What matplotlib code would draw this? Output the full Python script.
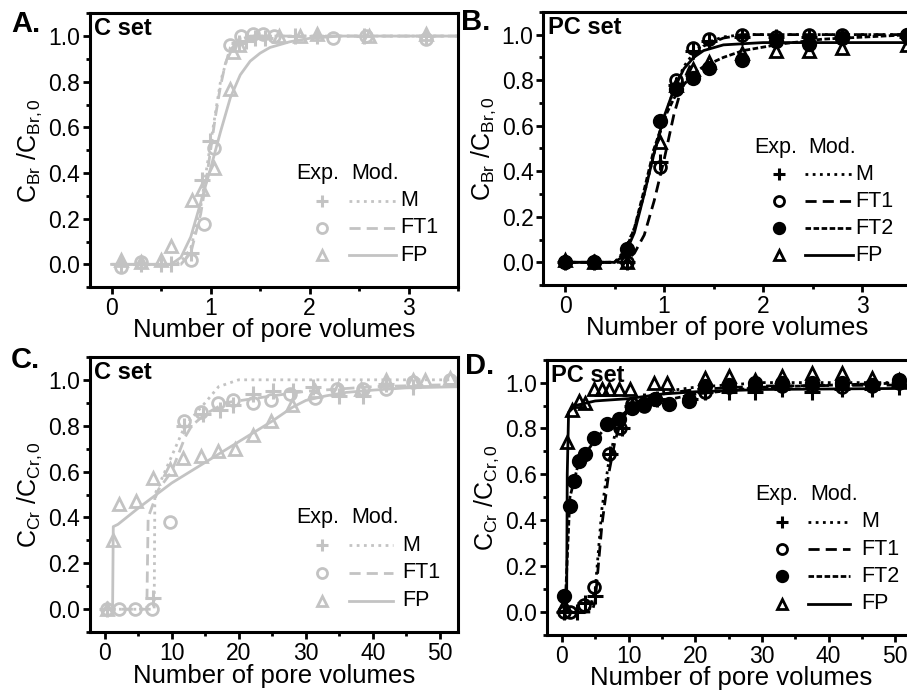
import numpy as np
import matplotlib
matplotlib.use("Agg")
import matplotlib.pyplot as plt
from matplotlib.ticker import MultipleLocator

plt.rcParams['font.family'] = ['Liberation Sans', 'DejaVu Sans']
plt.rcParams['mathtext.fontset'] = 'custom'
plt.rcParams['mathtext.rm'] = 'Liberation Sans'
plt.rcParams['mathtext.it'] = 'Liberation Sans:italic'

GREY = '#c3c3c3'
BLACK = '#000000'

# =========================
# Panel A - C set, bromide
# =========================
a_x_m = [0.10, 0.30, 0.50, 0.60, 0.80, 0.91, 0.99, 1.29, 1.36, 1.45, 1.55, 1.85, 2.08, 2.55, 3.18]
a_y_m = [0.00, 0.00, 0.00, 0.00, 0.05, 0.37, 0.54, 0.97, 0.98, 0.99, 0.99, 1.00, 1.00, 1.00, 1.00]
a_x_ft1 = [0.10, 0.30, 0.80, 0.93, 1.03, 1.20, 1.31, 1.43, 1.53, 1.64, 2.24, 2.57, 3.18]
a_y_ft1 = [-0.01, 0.01, 0.02, 0.175, 0.51, 0.96, 1.00, 1.01, 1.01, 1.00, 0.99, 1.00, 0.985]
a_x_fp = [0.10, 0.30, 0.50, 0.60, 0.81, 0.91, 1.03, 1.20, 1.23, 1.29, 1.69, 1.90, 2.08, 2.60, 3.18]
a_y_fp = [0.02, 0.01, 0.02, 0.08, 0.28, 0.33, 0.42, 0.77, 0.93, 0.96, 1.00, 1.00, 1.01, 1.00, 1.01]

a_cx_m = [0.0, 0.6, 0.7, 0.8, 0.9, 1.0, 1.1, 1.2, 1.3, 1.4, 3.5]
a_cy_m = [0.0, 0.0, 0.01, 0.07, 0.25, 0.53, 0.80, 0.95, 0.99, 1.0, 1.0]
a_cx_ft1 = [0.0, 0.7, 0.8, 0.9, 0.95, 1.0, 1.05, 1.1, 1.15, 1.2, 1.3, 1.4, 3.5]
a_cy_ft1 = [0.0, 0.0, 0.05, 0.22, 0.35, 0.50, 0.65, 0.78, 0.88, 0.94, 0.985, 1.0, 1.0]
a_cx_fp = [0.0, 0.6, 0.7, 0.8, 0.9, 1.0, 1.1, 1.2, 1.3, 1.4, 1.5, 1.6, 1.8, 2.0, 2.3, 3.5]
a_cy_fp = [0.0, 0.0, 0.03, 0.12, 0.27, 0.42, 0.58, 0.73, 0.83, 0.89, 0.925, 0.95, 0.975, 0.99, 1.0, 1.0]

# =========================
# Panel B - PC set, bromide
# =========================
b_x = [0.0, 0.29, 0.63, 0.96, 1.12, 1.29, 1.45, 1.79, 2.13, 2.46, 2.80, 3.45]
b_y_m = [0.0, 0.0, 0.0, 0.44, 0.78, 0.93, 0.97, 0.99, 0.99, 0.99, 0.99, 0.99]
b_y_ft1 = [0.0, 0.0, 0.0, 0.42, 0.80, 0.94, 0.98, 1.00, 0.99, 1.00, 1.00, 1.00]
b_y_ft2 = [0.0, 0.0, 0.06, 0.62, 0.76, 0.81, 0.855, 0.89, 0.97, 0.96, 0.985, 1.00]
b_y_fp = [0.01, 0.0, 0.0, 0.53, 0.78, 0.85, 0.88, 0.92, 0.93, 0.93, 0.94, 0.955]

b_cx_m = [0.0, 0.5, 0.6, 0.7, 0.8, 0.9, 1.0, 1.1, 1.2, 1.3, 1.4, 1.6, 1.8, 3.5]
b_cy_m = [0.0, 0.0, 0.05, 0.15, 0.30, 0.48, 0.63, 0.76, 0.86, 0.92, 0.96, 0.99, 1.0, 1.0]
b_cx_ft1 = [0.0, 0.6, 0.7, 0.8, 0.9, 1.0, 1.1, 1.2, 1.3, 1.4, 1.6, 1.8, 3.5]
b_cy_ft1 = [0.0, 0.0, 0.04, 0.12, 0.27, 0.45, 0.65, 0.80, 0.90, 0.95, 0.985, 1.0, 1.0]
b_cx_ft2 = [0.0, 0.5, 0.6, 0.7, 0.8, 0.9, 1.0, 1.1, 1.2, 1.3, 1.4, 1.6, 1.8, 2.2, 2.6, 3.5]
b_cy_ft2 = [0.0, 0.0, 0.04, 0.15, 0.32, 0.50, 0.63, 0.72, 0.78, 0.83, 0.86, 0.90, 0.93, 0.96, 0.98, 1.0]
b_cx_fp = [0.0, 0.5, 0.6, 0.7, 0.8, 0.9, 1.0, 1.1, 1.2, 1.3, 1.4, 1.6, 2.0, 3.5]
b_cy_fp = [0.0, 0.0, 0.03, 0.13, 0.30, 0.48, 0.64, 0.76, 0.85, 0.90, 0.93, 0.955, 0.965, 0.965]

# =========================
# Panel C - C set, chromium
# =========================
c_x_m = [0.3, 7.2, 11.9, 14.7, 17.2, 19.2, 22.1, 25.1, 28.1, 31.1, 35.0, 38.5, 42.0, 46.0]
c_y_m = [0.0, 0.05, 0.80, 0.85, 0.87, 0.89, 0.94, 0.95, 0.95, 0.97, 0.93, 0.93, 0.98, 0.97]
c_x_ft1 = [0.3, 2.2, 4.5, 7.0, 9.7, 11.9, 14.4, 16.9, 19.2, 22.1, 24.8, 27.6, 31.4, 34.6, 38.5, 42.0, 46.0, 51.5]
c_y_ft1 = [0.0, 0.0, 0.0, 0.0, 0.38, 0.82, 0.86, 0.90, 0.91, 0.90, 0.91, 0.94, 0.92, 0.96, 0.96, 0.96, 0.99, 1.00]
c_x_fp = [0.3, 1.2, 2.2, 4.7, 7.2, 9.7, 11.7, 14.4, 16.9, 19.4, 22.1, 24.8, 27.9, 31.4, 34.8, 38.3, 42.0, 46.0, 47.8, 51.5]
c_y_fp = [0.0, 0.30, 0.46, 0.47, 0.57, 0.61, 0.66, 0.67, 0.69, 0.70, 0.76, 0.82, 0.89, 0.95, 0.96, 0.96, 1.00, 1.00, 1.00, 1.01]

c_cx_m = [0.0, 7.4, 7.5, 9.0, 12.0, 15.0, 17.0, 20.0, 53.0]
c_cy_m = [0.0, 0.0, 0.50, 0.60, 0.80, 0.90, 0.97, 1.0, 1.0]
c_cx_ft1 = [0.0, 6.3, 6.5, 8.0, 10.0, 12.0, 13.0, 15.0, 18.0, 25.0, 30.0, 40.0, 53.0]
c_cy_ft1 = [0.0, 0.0, 0.40, 0.52, 0.60, 0.75, 0.80, 0.85, 0.90, 0.93, 0.95, 0.97, 0.98]
c_cx_fp = [0.0, 1.2, 1.3, 2.0, 5.0, 10.0, 15.0, 20.0, 25.0, 28.0, 30.0, 33.0, 36.0, 40.0, 45.0, 53.0]
c_cy_fp = [0.0, 0.0, 0.36, 0.37, 0.44, 0.55, 0.64, 0.73, 0.82, 0.88, 0.91, 0.93, 0.945, 0.955, 0.965, 0.97]

# =========================
# Panel D - PC set, chromium
# =========================
d_x_m = [0.25, 2.25, 3.5, 5.0, 7.25, 9.0, 10.5, 12.25, 14.25, 19.25, 21.5, 25.0, 29.0, 33.0, 37.5, 42.0, 46.5, 50.5]
d_y_m = [0.0, 0.0, 0.04, 0.07, 0.69, 0.80, 0.90, 0.92, 0.93, 0.93, 0.96, 0.96, 0.96, 0.97, 0.96, 0.97, 0.97, 0.98]
d_x_ft1 = [0.25, 1.25, 3.25, 4.75, 7.0, 8.75, 10.5, 12.25, 14.0, 19.0, 21.5, 25.0, 29.0, 33.0, 37.5, 42.0, 46.5, 50.5]
d_y_ft1 = [0.0, 0.0, 0.03, 0.11, 0.69, 0.80, 0.905, 0.90, 0.93, 0.93, 0.96, 0.98, 0.985, 0.985, 0.985, 0.98, 0.985, 1.0]
d_x_ft2 = [0.25, 1.15, 1.75, 2.5, 3.5, 4.75, 6.75, 8.5, 10.5, 12.25, 14.0, 16.0, 19.0, 21.5, 25.0, 29.0, 33.0, 37.5, 42.0, 46.5, 50.5]
d_y_ft2 = [0.07, 0.46, 0.57, 0.66, 0.69, 0.76, 0.82, 0.84, 0.89, 0.905, 0.93, 0.905, 0.92, 0.985, 0.99, 1.0, 1.0, 1.0, 1.0, 0.99, 1.01]
d_x_fp = [0.25, 0.75, 1.5, 2.5, 3.5, 4.75, 6.0, 7.0, 8.5, 10.25, 13.75, 15.75, 21.5, 25.0, 29.0, 33.0, 37.5, 42.0, 46.5, 50.5]
d_y_fp = [0.03, 0.74, 0.88, 0.92, 0.91, 0.97, 0.97, 0.97, 0.97, 0.97, 1.0, 1.0, 1.02, 1.03, 1.01, 1.03, 1.04, 1.04, 1.02, 1.01]

d_cx_m = [0.0, 4.0, 5.0, 6.0, 7.0, 8.0, 9.0, 10.0, 12.0, 15.0, 20.0, 30.0, 53.0]
d_cy_m = [0.0, 0.0, 0.10, 0.45, 0.65, 0.78, 0.85, 0.89, 0.93, 0.96, 0.98, 1.0, 1.0]
d_cx_ft1 = [0.0, 4.5, 5.0, 6.0, 7.0, 8.0, 9.0, 10.0, 12.0, 15.0, 20.0, 30.0, 53.0]
d_cy_ft1 = [0.0, 0.0, 0.05, 0.38, 0.60, 0.75, 0.84, 0.88, 0.92, 0.95, 0.97, 0.985, 0.99]
d_cx_ft2 = [0.0, 0.3, 0.6, 1.2, 2.5, 5.0, 7.0, 10.0, 15.0, 20.0, 30.0, 53.0]
d_cy_ft2 = [0.0, 0.0, 0.10, 0.50, 0.65, 0.75, 0.82, 0.88, 0.92, 0.95, 0.98, 1.0]
d_cx_fp = [0.0, 0.7, 0.8, 1.0, 2.0, 5.0, 10.0, 15.0, 20.0, 30.0, 53.0]
d_cy_fp = [0.0, 0.0, 0.60, 0.87, 0.90, 0.92, 0.93, 0.95, 0.96, 0.97, 0.975]

# styles
LS = {'M': (0, (1, 1.6)), 'FT1': (0, (4, 2.2)), 'FT2': (0, (2, 0.9)), 'FP': '-'}
MK = {'M': dict(marker='+', ms=11, mew=2.2),
      'FT1': dict(marker='o', ms=8.5, mew=2.0, mfc='none'),
      'FT2': dict(marker='o', ms=9.5, mew=1.5),
      'FP': dict(marker='^', ms=9, mew=2.0, mfc='none')}


def style_axes(ax, xlim, xmaj, xmin, ylabel):
    ax.set_xlim(*xlim)
    ax.set_ylim(-0.1, 1.1)
    ax.xaxis.set_major_locator(MultipleLocator(xmaj))
    ax.xaxis.set_minor_locator(MultipleLocator(xmin))
    ax.yaxis.set_major_locator(MultipleLocator(0.2))
    ax.yaxis.set_minor_locator(MultipleLocator(0.1))
    ax.yaxis.set_major_formatter(plt.FormatStrFormatter('%.1f'))
    ax.tick_params(which='both', direction='out', width=2, labelsize=16.5,
                   top=False, right=False, pad=2)
    ax.tick_params(which='major', length=5)
    ax.tick_params(which='minor', length=3)
    for s in ax.spines.values():
        s.set_linewidth(2.2)
    ax.set_xlabel('Number of pore volumes', fontsize=18.5, labelpad=-1)
    ax.set_ylabel(ylabel, fontsize=18, labelpad=3)


def legend(ax, names, color, x0, xmod, ytop, dy, xm, xl0, xl1, xt):
    ax.text(x0, ytop, 'Exp.', transform=ax.transAxes, fontsize=15.5,
            va='center', ha='left')
    ax.text(xmod, ytop, 'Mod.', transform=ax.transAxes, fontsize=15.5,
            va='center', ha='left')
    for i, n in enumerate(names):
        y = ytop - dy * (i + 1)
        kw = dict(MK[n])
        kw['ms'] = kw['ms'] * 0.85
        ax.plot([xm], [y], transform=ax.transAxes, color=color, ls='none',
                clip_on=False, **kw)
        ax.plot([xl0, xl1], [y, y], transform=ax.transAxes, color=color,
                ls=LS[n], lw=2, clip_on=False)
        ax.text(xt, y, n, transform=ax.transAxes, fontsize=15.5, va='center',
                ha='left')


fig = plt.figure(figsize=(9.07, 6.97), dpi=100)
axA = fig.add_axes([0.099, 0.588, 0.406, 0.393])
axB = fig.add_axes([0.599, 0.591, 0.406, 0.392])
axC = fig.add_axes([0.099, 0.093, 0.406, 0.395])
axD = fig.add_axes([0.603, 0.089, 0.406, 0.395])

# A
for cx, cy, n in [(a_cx_m, a_cy_m, 'M'), (a_cx_ft1, a_cy_ft1, 'FT1'), (a_cx_fp, a_cy_fp, 'FP')]:
    axA.plot(cx, cy, color=GREY, ls=LS[n], lw=2)
for x, y, n in [(a_x_m, a_y_m, 'M'), (a_x_ft1, a_y_ft1, 'FT1'), (a_x_fp, a_y_fp, 'FP')]:
    axA.plot(x, y, color=GREY, ls='none', **MK[n])
style_axes(axA, (-0.22, 3.5), 1, 0.5, r'C$_{\mathrm{Br}}$ /C$_{\mathrm{Br,0}}$')
legend(axA, ['M', 'FT1', 'FP'], GREY, 0.56, 0.71, 0.416, 0.1, 0.63, 0.705, 0.832, 0.843)

# B
for cx, cy, n in [(b_cx_m, b_cy_m, 'M'), (b_cx_ft1, b_cy_ft1, 'FT1'),
                  (b_cx_ft2, b_cy_ft2, 'FT2'), (b_cx_fp, b_cy_fp, 'FP')]:
    axB.plot(cx, cy, color=BLACK, ls=LS[n], lw=2)
for y, n in [(b_y_m, 'M'), (b_y_ft1, 'FT1'), (b_y_ft2, 'FT2'), (b_y_fp, 'FP')]:
    axB.plot(b_x, y, color=BLACK, ls='none', **MK[n])
style_axes(axB, (-0.22, 3.5), 1, 0.5, r'C$_{\mathrm{Br}}$ /C$_{\mathrm{Br,0}}$')
legend(axB, ['M', 'FT1', 'FT2', 'FP'], BLACK, 0.572, 0.72, 0.505, 0.099, 0.639, 0.712, 0.842, 0.846)

# C
for cx, cy, n in [(c_cx_m, c_cy_m, 'M'), (c_cx_ft1, c_cy_ft1, 'FT1'), (c_cx_fp, c_cy_fp, 'FP')]:
    axC.plot(cx, cy, color=GREY, ls=LS[n], lw=2)
for x, y, n in [(c_x_m, c_y_m, 'M'), (c_x_ft1, c_y_ft1, 'FT1'), (c_x_fp, c_y_fp, 'FP')]:
    axC.plot(x, y, color=GREY, ls='none', **MK[n])
style_axes(axC, (-2.2, 52.7), 10, 5, r'C$_{\mathrm{Cr}}$ /C$_{\mathrm{Cr,0}}$')
legend(axC, ['M', 'FT1', 'FP'], GREY, 0.56, 0.71, 0.415, 0.1, 0.63, 0.705, 0.823, 0.848)

# D
for cx, cy, n in [(d_cx_m, d_cy_m, 'M'), (d_cx_ft1, d_cy_ft1, 'FT1'),
                  (d_cx_ft2, d_cy_ft2, 'FT2'), (d_cx_fp, d_cy_fp, 'FP')]:
    axD.plot(cx, cy, color=BLACK, ls=LS[n], lw=2)
for x, y, n in [(d_x_m, d_y_m, 'M'), (d_x_ft1, d_y_ft1, 'FT1'),
                (d_x_ft2, d_y_ft2, 'FT2'), (d_x_fp, d_y_fp, 'FP')]:
    axD.plot(x, y, color=BLACK, ls='none', **MK[n])
style_axes(axD, (-2.25, 53.0), 10, 5, r'C$_{\mathrm{Cr}}$ /C$_{\mathrm{Cr,0}}$')
legend(axD, ['M', 'FT1', 'FT2', 'FP'], BLACK, 0.566, 0.715, 0.51, 0.099, 0.638, 0.71, 0.824, 0.853)

# set names and panel letters
for ax, t in [(axA, 'C set'), (axB, 'PC set'), (axC, 'C set'), (axD, 'PC set')]:
    ax.text(0.012, 0.985, t, transform=ax.transAxes, fontsize=17,
            fontweight='bold', va='top', ha='left')

for x, y, t in [(0.012, 0.965, 'A.'), (0.508, 0.968, 'B.'),
                (0.012, 0.483, 'C.'), (0.513, 0.475, 'D.')]:
    fig.text(x, y, t, fontsize=21, fontweight='bold', va='center', ha='left')

plt.savefig('out.png', dpi=100)
plt.close()
